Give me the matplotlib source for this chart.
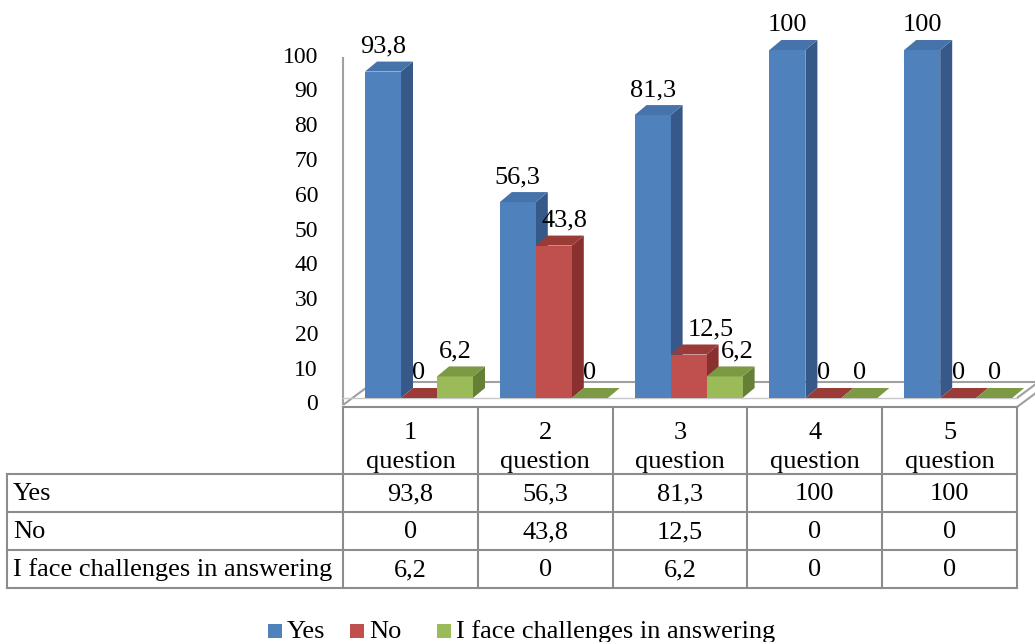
import matplotlib

matplotlib.use("Agg")
import matplotlib.pyplot as plt
from matplotlib.patches import Polygon, Rectangle

plt.rcParams["font.family"] = ["Liberation Serif", "DejaVu Serif"]

# --- data ---
categories = ["1\nquestion", "2\nquestion", "3\nquestion", "4\nquestion", "5\nquestion"]
series_names = ["Yes", "No", "I face challenges in answering"]
yes_values = [93.8, 56.3, 81.3, 100, 100]
no_values = [0, 43.8, 12.5, 0, 0]
challenge_values = [6.2, 0, 6.2, 0, 0]
y_ticks = list(range(0, 101, 10))

# --- styling ---
FRONT = ["#4F81BD", "#C0504D", "#9BBB59"]
TOP = ["#4673AA", "#9B3B38", "#7C9A43"]
SIDE = ["#36598A", "#8A302E", "#667F36"]
GRID = "#A0A0A0"
TABLE = "#8C8C8C"
FS = 19

W, H = 1035, 642
PLOT_LEFT, PLOT_RIGHT = 343, 1017  # pixel extent of the category columns
PLOT_BOTTOM, PLOT_TOP = 398, 50  # pixel rows of value 0 and value 100
ROW_EDGES = [407, 474, 512, 550, 588]
TABLE_LEFT = 7
LEGEND_X = [268, 350, 437]  # left edge of each legend swatch (pixels)
LEGEND_Y = 631

# a few labels Excel pushed sideways to dodge the neighbouring bar (pixels)
LABEL_NUDGE = {(1, 1): 11, (1, 2): 22, (2, 2): 13}


def fmt(v):
    return f"{v:g}".replace(".", ",")


def setup_figure():
    fig = plt.figure(figsize=(W / 100, H / 100), dpi=100)
    # overlay in pixel coords for table, floor, axis lines and legend
    ov = fig.add_axes([0, 0, 1, 1], zorder=0)
    ov.set_xlim(0, W)
    ov.set_ylim(H, 0)
    ov.axis("off")
    # bar axes in data coords
    ax = fig.add_axes(
        [
            PLOT_LEFT / W,
            (H - PLOT_BOTTOM) / H,
            (PLOT_RIGHT - PLOT_LEFT) / W,
            (PLOT_BOTTOM - PLOT_TOP) / H,
        ],
        zorder=1,
    )
    ax.set_xlim(-0.5, len(categories) - 0.5)
    ax.set_ylim(0, 100)
    ax.axis("off")
    return fig, ax, ov


def to_px(ax, x, y):
    """Data point of the bar axes -> figure pixel (y pointing down)."""
    xd, yd = ax.transData.transform((x, y))
    return xd, H - yd


def draw_floor(ax, ov):
    x0, y0 = to_px(ax, -0.5, 0)
    x1, _ = to_px(ax, len(categories) - 0.5, 0)
    _, y100 = to_px(ax, -0.5, 100)
    kw = dict(color=GRID, lw=1.5, solid_capstyle="butt")
    # vertical value axis
    ov.plot([x0, x0], [y100 + 7, y0 + 7], **kw)
    # floor: left depth edge, back edge, front edge, right depth edges
    ov.plot([x0, x0 + 31], [y0 + 7, y0 - 16], **kw)
    ov.plot([x0 + 31, W + 40], [y0 - 16, y0 - 16], **kw)
    ov.plot([x0, x1], [y0, y0], color="#C8C8C8", lw=1.0)
    ov.plot([x1, x1 + 31], [y0, y0 - 23], **kw)
    ov.plot([x1, x1 + 31], [y0 + 9, y0 - 14], **kw)

    # value axis labels
    for t in y_ticks:
        ax.annotate(
            str(t),
            (-0.5, t),
            xytext=(-25, -7),
            textcoords="offset pixels",
            ha="right",
            va="center",
            fontsize=17,
            annotation_clip=False,
        )


def draw_bars(ax):
    px_x = (PLOT_RIGHT - PLOT_LEFT) / len(categories)
    px_y = (PLOT_BOTTOM - PLOT_TOP) / 100
    bar_w = 36 / px_x
    start = -0.5 + 22 / px_x
    dx, dy = 12 / px_x, 10 / px_y

    all_values = [yes_values, no_values, challenge_values]
    z = 2
    for i in range(len(categories)):
        for j, vals in enumerate(all_values):
            v = vals[i]
            x0 = i + start + j * bar_w
            x1 = x0 + bar_w
            if v > 0:
                ax.add_patch(
                    Polygon(
                        [(x1, 0), (x1 + dx, dy), (x1 + dx, v + dy), (x1, v)],
                        fc=SIDE[j], lw=0, zorder=z, clip_on=False,
                    )
                )
                ax.add_patch(
                    Rectangle((x0, 0), bar_w, v, fc=FRONT[j], lw=0, zorder=z, clip_on=False)
                )
            ax.add_patch(
                Polygon(
                    [(x0, v), (x1, v), (x1 + dx, v + dy), (x0 + dx, v + dy)],
                    fc=TOP[j], lw=0, zorder=z, clip_on=False,
                )
            )
            ax.annotate(
                fmt(v),
                ((x0 + x1) / 2, v),
                xytext=(LABEL_NUDGE.get((j, i), 0), 19),
                textcoords="offset pixels",
                ha="center",
                va="baseline",
                fontsize=FS,
                zorder=z + 1,
                annotation_clip=False,
            )
            z += 1


def draw_table(ax, ov):
    col_edges = [to_px(ax, i - 0.5, 0)[0] for i in range(len(categories) + 1)]
    kw = dict(color=TABLE, lw=1.5, solid_capstyle="projecting")
    top, head_bottom = ROW_EDGES[0], ROW_EDGES[1]

    # grid lines
    ov.plot([col_edges[0], col_edges[-1]], [top, top], **kw)
    for x in col_edges:
        ov.plot([x, x], [top, ROW_EDGES[-1]], **kw)
    for y in ROW_EDGES[1:]:
        ov.plot([TABLE_LEFT, col_edges[-1]], [y, y], **kw)
    ov.plot([TABLE_LEFT, TABLE_LEFT], [head_bottom, ROW_EDGES[-1]], **kw)

    # header: number on one line, "question" below
    for i, cat in enumerate(categories):
        xc = (col_edges[i] + col_edges[i + 1]) / 2
        first, second = cat.split("\n")
        ov.text(xc, top + 32, first, ha="center", va="baseline", fontsize=FS)
        ov.text(xc, top + 61, second, ha="center", va="baseline", fontsize=FS)

    rows = [yes_values, no_values, challenge_values]
    for r, (name, vals) in enumerate(zip(series_names, rows)):
        yb = ROW_EDGES[r + 1] + 26
        ov.text(TABLE_LEFT + 6, yb, name, ha="left", va="baseline", fontsize=FS)
        for i, v in enumerate(vals):
            xc = (col_edges[i] + col_edges[i + 1]) / 2
            ov.text(xc, yb, fmt(v), ha="center", va="baseline", fontsize=FS)


def draw_legend(ov):
    # Excel spaces its legend entries unevenly, so place them one by one
    sq = 14
    for name, color, x in zip(series_names, FRONT, LEGEND_X):
        ov.add_patch(Rectangle((x, LEGEND_Y - sq / 2), sq, sq, fc=color, lw=0))
        ov.text(x + sq + 5, LEGEND_Y + 7, name, ha="left", va="baseline", fontsize=FS)


def main():
    fig, ax, ov = setup_figure()
    draw_floor(ax, ov)
    draw_bars(ax)
    draw_table(ax, ov)
    draw_legend(ov)
    fig.savefig("out.png", dpi=100, facecolor="white")


if __name__ == "__main__":
    main()
